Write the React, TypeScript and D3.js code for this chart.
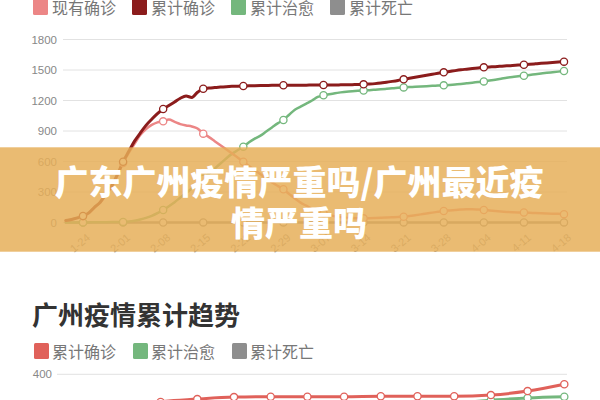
import React from "react";
import * as d3 from "d3";

const W = 600;
const H = 400;

// ---------- top chart ----------
const topLegend = ["现有确诊", "累计确诊", "累计治愈", "累计死亡"];
const topColors = ["#ec8686", "#8b1c1c", "#74b77d", "#8e8e8e"];
const xTickLabels = ["1-24", "2-01", "2-08", "2-15", "2-22", "2-29", "3-07", "3-14", "3-21", "3-28", "4-04", "4-11", "4-18"];
const yTicks = [0, 300, 600, 900, 1200, 1500, 1800];

// daily values, index 0 = 1-21, ticks every 7 points starting at index 3
const currentConfirmed = [
  20, 30, 45, 62, 92, 145, 195, 272, 350, 458,
  585, 685, 775, 860, 920, 960, 985, 995, 1012, 990,
  968, 955, 945, 925, 874, 840, 800, 760, 720, 680,
  640, 598, 555, 515, 475, 435, 395, 360, 327, 280,
  235, 195, 165, 135, 110, 90, 75, 62, 55, 48,
  44, 42, 41, 42, 44, 46, 49, 52, 55, 57,
  64, 72, 80, 88, 97, 105, 113, 118, 122, 127,
  130, 130, 127, 123, 118, 113, 108, 104, 101, 99,
  98, 96, 93, 91, 89, 87, 85, 82,
];
const totalConfirmed = [
  20, 30, 45, 64, 95, 150, 200, 280, 360, 470,
  598, 700, 800, 880, 955, 1015, 1070, 1116, 1150, 1185,
  1222, 1244, 1230, 1281, 1316, 1322, 1328, 1332, 1336, 1339,
  1341, 1343, 1345, 1346, 1347, 1348, 1349, 1349, 1350, 1350,
  1351, 1351, 1351, 1352, 1352, 1352, 1353, 1353, 1354, 1355,
  1356, 1357, 1359, 1362, 1366, 1372, 1380, 1388, 1397, 1408,
  1418, 1428, 1438, 1448, 1458, 1468, 1477, 1485, 1494, 1502,
  1508, 1514, 1520, 1526, 1530, 1533, 1537, 1541, 1544, 1548,
  1552, 1556, 1561, 1566, 1570, 1574, 1578, 1582,
];
const totalCured = [
  0, 0, 0, 1, 1, 2, 2, 3, 4, 5,
  6, 10, 18, 30, 45, 65, 92, 123, 160, 200,
  245, 290, 335, 380, 430, 480, 530, 580, 630, 675,
  710, 746, 790, 825, 855, 895, 935, 975, 1008, 1060,
  1110, 1140, 1170, 1200, 1235, 1251, 1262, 1272, 1280, 1287,
  1292, 1296, 1299, 1302, 1306, 1310, 1315, 1320, 1325, 1329,
  1332, 1335, 1338, 1341, 1344, 1347, 1349, 1353, 1358, 1363,
  1369, 1375, 1382, 1388, 1396, 1405, 1414, 1424, 1432, 1438,
  1444, 1451, 1458, 1465, 1472, 1478, 1484, 1490,
];
const totalDeaths = [
  0, 0, 0, 0, 0, 0, 0, 0, 0, 0,
  0, 0, 0, 0, 0, 0, 0, 0, 0, 0,
  1, 1, 1, 1, 1, 1, 1, 1, 1, 1,
  1, 1, 1, 1, 1, 1, 1, 1, 1, 1,
  1, 1, 1, 1, 1, 1, 1, 1, 1, 1,
  1, 1, 1, 1, 1, 1, 1, 1, 1, 1,
  1, 1, 1, 1, 1, 1, 1, 1, 1, 1,
  1, 1, 1, 1, 1, 1, 1, 1, 1, 1,
  1, 1, 1, 1, 1, 1, 1, 1,
];

// ---------- banner ----------
const bannerLines = ["广东广州疫情严重吗/广州最近疫", "情严重吗"];

// ---------- bottom chart ----------
const bottomTitle = "广州疫情累计趋势";
const bottomLegend = ["累计确诊", "累计治愈", "累计死亡"];
const bottomColors = ["#e0615a", "#74b77d", "#8e8e8e"];
const bottomYTicks = [400];
// weekly values
const bottomConfirmed = [300, 331, 338, 343, 344, 344, 344, 345, 345, 345, 348, 358, 375];
const bottomCured = [120, 160, 200, 240, 270, 290, 305, 315, 322, 328, 335, 341, 344];
const bottomDeaths = [0, 0, 0, 0, 0, 0, 0, 0, 0, 0, 0, 0, 0];

const numFont = "'Liberation Sans', Arial, Helvetica, sans-serif";
const cjkFont = "'Noto Sans CJK SC', 'Noto Sans', sans-serif";

export default function App() {
  // top scales
  const x = d3.scaleLinear().domain([3, 87]).range([83, 564]);
  const y = d3.scaleLinear().domain([0, 1800]).range([222.5, 39.5]);
  const line = d3
    .line<number>()
    .x((_, i) => x(i))
    .y((d) => y(d))
    .curve(d3.curveMonotoneX);

  const topSeries = [
    { data: totalDeaths, color: topColors[3], w: 2.5 },
    { data: totalCured, color: topColors[2], w: 2.5 },
    { data: currentConfirmed, color: topColors[0], w: 2.5 },
    { data: totalConfirmed, color: topColors[1], w: 3 },
  ];
  const markerIdx = xTickLabels.map((_, k) => 3 + 7 * k);

  // bottom scales
  const xb = d3.scaleLinear().domain([0, 12]).range([123.9, 564.3]);
  const yb = d3.scaleLinear().domain([0, 400]).range([534.3, 374.3]);
  const lineB = d3
    .line<number>()
    .x((_, i) => xb(i))
    .y((d) => yb(d))
    .curve(d3.curveMonotoneX);
  const bottomSeries = [
    { data: bottomDeaths, color: bottomColors[2] },
    { data: bottomCured, color: bottomColors[1] },
    { data: bottomConfirmed, color: bottomColors[0] },
  ];

  return (
    <div style={{ position: "absolute", left: 0, top: 0, width: W, height: H, overflow: "hidden", background: "#fff" }}>
      <svg width={W} height={H} viewBox={`0 0 ${W} ${H}`} style={{ display: "block" }}>
        <rect x={0} y={0} width={W} height={H} fill="#fff" />

        {/* top legend */}
        {topLegend.map((name, i) => (
          <g key={name} transform={`translate(${33 + i * 99},0)`}>
            <rect x={0} y={-1} width={15} height={16} rx={1.5} fill={topColors[i]} />
            <text x={19} y={7} fontSize={16} fill="#777" fontFamily={cjkFont} dominantBaseline="central">
              {name}
            </text>
          </g>
        ))}

        {/* grid + y labels */}
        {yTicks.map((t) => (
          <g key={t}>
            <line x1={63} x2={567} y1={y(t)} y2={y(t)} stroke="#e2e2e2" strokeWidth={1} />
            <text x={57} y={y(t)} textAnchor="end" dominantBaseline="central" fontSize={11.5} fill="#888" fontFamily={numFont}>
              {t}
            </text>
          </g>
        ))}

        {/* x labels */}
        {xTickLabels.map((lab, k) => (
          <text
            key={lab}
            transform={`translate(${x(markerIdx[k]) + 3},${233}) rotate(-40)`}
            textAnchor="end"
            dy="0.7em"
            fontSize={11}
            fill="#999"
            fontFamily={numFont}
          >
            {lab}
          </text>
        ))}

        {/* lines */}
        {topSeries.map((s, i) => (
          <path key={i} d={line(s.data) || ""} fill="none" stroke={s.color} strokeWidth={s.w} strokeLinejoin="round" strokeLinecap="round" />
        ))}
        {topSeries.map((s, i) =>
          markerIdx.map((mi) => (
            <circle key={`${i}-${mi}`} cx={x(mi)} cy={y(s.data[mi])} r={3.6} fill="#fff" stroke={s.color} strokeWidth={1.3} />
          ))
        )}

        {/* banner */}
        <rect x={0} y={147.3} width={W} height={104.4} fill="#e6ae57" opacity={0.84} />
        {bannerLines.map((t, i) => (
          <text
            key={i}
            x={299}
            y={i === 0 ? 180 : 221}
            textAnchor="middle"
            dominantBaseline="central"
            fontSize={34}
            fontWeight={900}
            fill="#fff"
            fontFamily={cjkFont}
          >
            {t}
          </text>
        ))}

        {/* bottom chart */}
        <text x={32} y={313} dominantBaseline="central" fontSize={26} fontWeight={700} fill="#333" fontFamily={cjkFont}>
          {bottomTitle}
        </text>
        {bottomLegend.map((name, i) => (
          <g key={name} transform={`translate(${34 + i * 99},343)`}>
            <rect x={0} y={0} width={15} height={16} rx={1.5} fill={bottomColors[i]} />
            <text x={18} y={8} fontSize={16} fill="#777" fontFamily={cjkFont} dominantBaseline="central">
              {name}
            </text>
          </g>
        ))}
        {bottomYTicks.map((t) => (
          <g key={t}>
            <line x1={57} x2={567} y1={yb(t)} y2={yb(t)} stroke="#e2e2e2" strokeWidth={1} />
            <text x={52} y={yb(t)} textAnchor="end" dominantBaseline="central" fontSize={11.5} fill="#888" fontFamily={numFont}>
              {t}
            </text>
          </g>
        ))}
        {bottomSeries.map((s, i) => (
          <path key={i} d={lineB(s.data) || ""} fill="none" stroke={s.color} strokeWidth={3} strokeLinejoin="round" />
        ))}
        {bottomSeries.map((s, i) =>
          s.data.map((v, k) => (
            <circle key={`b${i}-${k}`} cx={xb(k)} cy={yb(v)} r={3.6} fill="#fff" stroke={s.color} strokeWidth={1.3} />
          ))
        )}
      </svg>
    </div>
  );
}
